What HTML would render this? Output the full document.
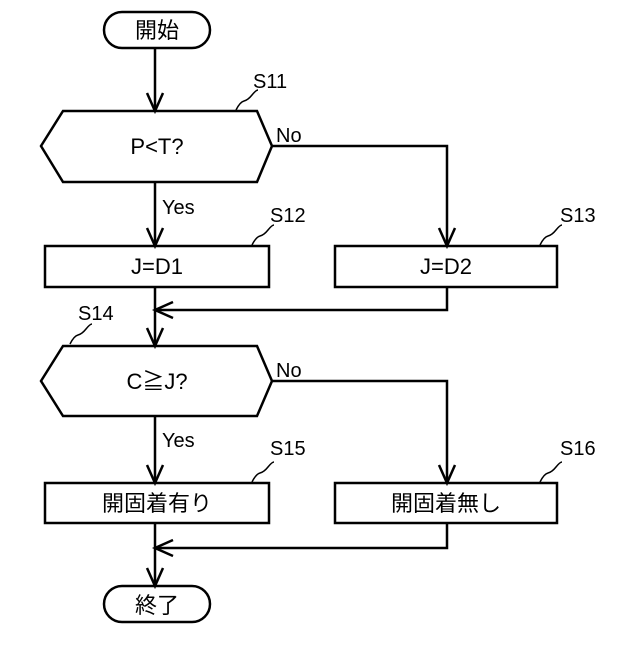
<!DOCTYPE html>
<html><head><meta charset="utf-8"><style>
html,body{margin:0;padding:0;background:#fff;}
svg text{font-family:"Liberation Sans","Noto Sans CJK JP",sans-serif;fill:#000;}
</style></head><body>
<svg width="640" height="640" viewBox="0 0 640 640" xmlns="http://www.w3.org/2000/svg">
<g fill="none" stroke="#000" stroke-width="2.5">
<rect x="104" y="12" width="106" height="36" rx="18"/>
<polygon points="41,146 63,111 257,111 272,146 257,182 63,182"/>
<rect x="45" y="246" width="224" height="41"/>
<rect x="335" y="246" width="222" height="41"/>
<polygon points="41,381 63,346 257,346 272,381 257,416 63,416"/>
<rect x="45" y="483" width="224" height="40"/>
<rect x="335" y="483" width="222" height="40"/>
<rect x="104" y="586" width="106" height="36" rx="18"/>
<line x1="155" y1="48" x2="155" y2="111"/>
<line x1="155" y1="182" x2="155" y2="246"/>
<polyline points="272,146 447,146 447,246"/>
<line x1="155" y1="287" x2="155" y2="346"/>
<polyline points="447,287 447,310 155,310"/>
<line x1="155" y1="416" x2="155" y2="483"/>
<polyline points="272,381 447,381 447,483"/>
<line x1="155" y1="523" x2="155" y2="586"/>
<polyline points="447,523 447,548 155,548"/>
<polyline points="147,93 155,111 163,93"/>
<polyline points="147,228 155,246 163,228"/>
<polyline points="439,228 447,246 455,228"/>
<polyline points="147,328 155,346 163,328"/>
<polyline points="173,302 155,310 173,318"/>
<polyline points="147,465 155,483 163,465"/>
<polyline points="439,465 447,483 455,465"/>
<polyline points="147,568 155,586 163,568"/>
<polyline points="173,540 155,548 173,556"/>
</g>
<g fill="none" stroke="#000" stroke-width="1.5">
<path d="M236,110 q4,-8 8,-9 t8,-6 t6,-5"/>
<path d="M252,245 q4,-8 8,-9 t8,-6 t6,-5"/>
<path d="M540,245 q4,-8 8,-9 t8,-6 t6,-5"/>
<path d="M70,344 q4,-8 8,-9 t8,-6 t6,-5"/>
<path d="M252,482 q4,-8 8,-9 t8,-6 t6,-5"/>
<path d="M540,482 q4,-8 8,-9 t8,-6 t6,-5"/>
</g>
<g font-size="22" text-anchor="middle">
<text x="157" y="38">開始</text>
<text x="157" y="154">P&lt;T?</text>
<text x="157" y="274">J=D1</text>
<text x="446" y="274">J=D2</text>
<text x="157" y="389">C≧J?</text>
<text x="157" y="511">開固着有り</text>
<text x="446" y="511">開固着無し</text>
<text x="157" y="613">終了</text>
</g>
<g font-size="20">
<text x="253" y="88">S11</text>
<text x="270" y="222">S12</text>
<text x="560" y="222">S13</text>
<text x="78" y="320">S14</text>
<text x="270" y="455">S15</text>
<text x="560" y="455">S16</text>
<text x="276" y="142">No</text>
<text x="276" y="377">No</text>
<text x="162" y="214">Yes</text>
<text x="162" y="447">Yes</text>
</g>
</svg>
</body></html>
